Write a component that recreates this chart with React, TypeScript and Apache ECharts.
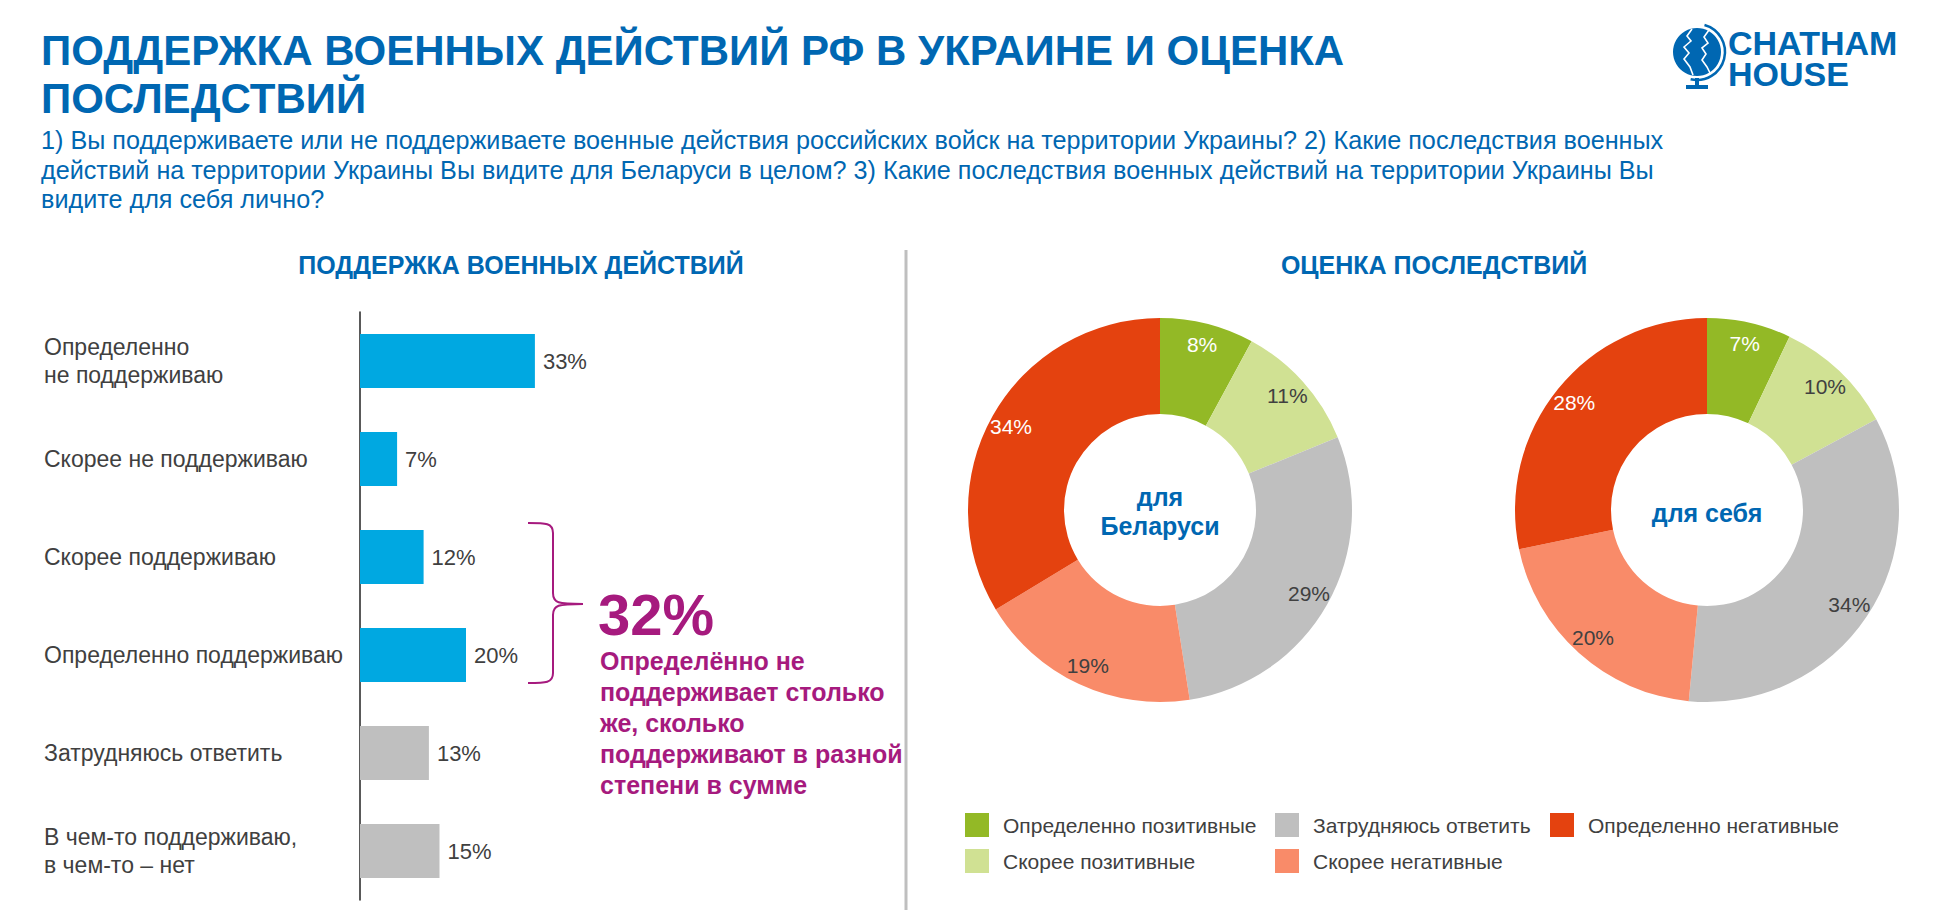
import React, { useEffect, useRef } from "react";
import * as echarts from "echarts";

// ---------- data ----------
const barCategories = [
  "Определенно\nне поддерживаю",
  "Скорее не поддерживаю",
  "Скорее поддерживаю",
  "Определенно поддерживаю",
  "Затрудняюсь ответить",
  "В чем-то поддерживаю,\nв чем-то – нет",
];
const barValues = [33, 7, 12, 20, 13, 15];

const pieCategories = [
  "Определенно позитивные",
  "Скорее позитивные",
  "Затрудняюсь ответить",
  "Скорее негативные",
  "Определенно негативные",
];
const belarusValues = [8, 11, 29, 19, 34];
const selfValues = [7, 10, 34, 20, 28];

const titleLines = ["ПОДДЕРЖКА ВОЕННЫХ ДЕЙСТВИЙ РФ В УКРАИНЕ И ОЦЕНКА", "ПОСЛЕДСТВИЙ"];
const subtitleLines = [
  "1) Вы поддерживаете или не поддерживаете военные действия российских войск на территории Украины? 2) Какие последствия военных",
  "действий на территории Украины Вы видите для Беларуси в целом? 3) Какие последствия военных действий на территории Украины Вы",
  "видите для себя лично?",
];
const leftHeader = "ПОДДЕРЖКА ВОЕННЫХ ДЕЙСТВИЙ";
const rightHeader = "ОЦЕНКА ПОСЛЕДСТВИЙ";
const annotationValue = "32%";
const annotationText =
  "Определённо не\nподдерживает столько\nже, сколько\nподдерживают в разной\nстепени в сумме";
const donutCenters = ["для\nБеларуси", "для себя"];
const logoLines = ["CHATHAM", "HOUSE"];

// ---------- styles ----------
const FONT = '"Liberation Sans", Arial, sans-serif';
const BLUE = "#0067b2";
const MAGENTA = "#a61a7e";
const TEXT = "#404040";
const barColorByIndex = ["#00a8e1", "#00a8e1", "#00a8e1", "#00a8e1", "#bfbfbf", "#bfbfbf"];
const pieColors = ["#93b926", "#d0e193", "#bfbfbf", "#f98b69", "#e4420f"];
const pieLabelColors = ["#ffffff", TEXT, TEXT, TEXT, "#ffffff"];

const bracePath =
  "M0 0 C 18 0, 25 0, 25 10 L 25 70 C 25 80, 30 81, 55 81 C 30 81, 25 82, 25 92 L 25 150 C 25 160, 18 160, 0 160";

export default function App() {
  const ref = useRef<HTMLDivElement>(null);

  useEffect(() => {
    document.body.style.margin = "0";
    document.body.style.overflow = "hidden";
    if (!ref.current) return;
    echarts.graphic.registerShape("brace", echarts.graphic.extendPath(bracePath, {}));
    const chart = echarts.init(ref.current, null, { renderer: "svg" });

    const pieData = (vals: number[]) =>
      pieCategories.map((name, i) => ({
        name,
        value: vals[i],
        itemStyle: { color: pieColors[i] },
      }));
    const pieLabelData = (vals: number[]) =>
      pieCategories.map((name, i) => ({
        name,
        value: vals[i],
        label: { color: pieLabelColors[i] },
      }));

    const donut = (cx: number, vals: number[]) => [
      {
        type: "pie",
        center: [cx, 510],
        radius: [96, 192],
        startAngle: 90,
        clockwise: true,
        label: { show: false },
        labelLine: { show: false },
        emphasis: { disabled: true },
        itemStyle: { borderWidth: 0 },
        data: pieData(vals),
      },
      {
        type: "pie",
        center: [cx, 510],
        radius: [144, 192],
        startAngle: 90,
        clockwise: true,
        silent: true,
        legendHoverLink: false,
        itemStyle: { color: "rgba(0,0,0,0)" },
        label: {
          show: true,
          position: "inside",
          formatter: "{c}%",
          fontSize: 21,
          fontFamily: FONT,
        },
        labelLine: { show: false },
        emphasis: { disabled: true },
        data: pieLabelData(vals),
      },
    ];

    const legendBase = {
      orient: "vertical",
      top: 813,
      padding: 0,
      itemWidth: 24,
      itemHeight: 24,
      itemGap: 12,
      icon: "rect",
      selectedMode: false,
      textStyle: { fontSize: 21, color: TEXT, fontFamily: FONT, padding: [0, 0, 0, 9] },
    };

    const titleGraphics = titleLines.map((t, i) => ({
      type: "text",
      x: 41,
      y: 50 + i * 48,
      style: { text: t, fill: BLUE, font: `bold 42px ${FONT}`, verticalAlign: "middle" },
    }));
    const subtitleGraphics = subtitleLines.map((t, i) => ({
      type: "text",
      x: 41,
      y: 140 + i * 29.5,
      style: { text: t, fill: BLUE, font: `25.2px ${FONT}`, verticalAlign: "middle" },
    }));
    const logoGraphics = logoLines.map((t, i) => ({
      type: "text",
      x: 1728,
      y: 43 + i * 31,
      style: { text: t, fill: BLUE, font: `bold 34px ${FONT}`, verticalAlign: "middle" },
    }));

    const option: any = {
      animation: false,
      textStyle: { fontFamily: FONT },
      grid: { left: 360, top: 312, width: 530, height: 588 },
      xAxis: { type: "value", min: 0, max: 100, show: false },
      yAxis: {
        type: "category",
        inverse: true,
        data: barCategories,
        axisLine: { show: true, lineStyle: { color: "#222", width: 1.5 } },
        axisTick: { show: false },
        axisLabel: {
          interval: 0,
          align: "left",
          margin: 316,
          fontSize: 23,
          lineHeight: 28,
          color: TEXT,
          fontFamily: FONT,
        },
      },
      legend: [
        { ...legendBase, left: 965, data: [pieCategories[0], pieCategories[1]] },
        { ...legendBase, left: 1275, data: [pieCategories[2], pieCategories[3]] },
        { ...legendBase, left: 1550, data: [pieCategories[4]] },
      ],
      series: [
        {
          type: "bar",
          data: barValues.map((v, i) => ({ value: v, itemStyle: { color: barColorByIndex[i] } })),
          barWidth: 54,
          label: {
            show: true,
            position: "right",
            distance: 8,
            formatter: "{c}%",
            fontSize: 22,
            color: TEXT,
            fontFamily: FONT,
          },
          emphasis: { disabled: true },
        },
        ...donut(1160, belarusValues),
        ...donut(1707, selfValues),
      ],
      graphic: [
        ...titleGraphics,
        ...subtitleGraphics,
        {
          type: "text",
          x: 521,
          y: 265,
          style: { text: leftHeader, fill: BLUE, font: `bold 25px ${FONT}`, align: "center", verticalAlign: "middle" },
        },
        {
          type: "text",
          x: 1434,
          y: 265,
          style: { text: rightHeader, fill: BLUE, font: `bold 25px ${FONT}`, align: "center", verticalAlign: "middle" },
        },
        {
          type: "line",
          shape: { x1: 906, y1: 250, x2: 906, y2: 910 },
          style: { stroke: "#bfbfbf", lineWidth: 3 },
        },
        {
          type: "brace",
          x: 528,
          y: 523,
          style: { fill: "none", stroke: MAGENTA, lineWidth: 2 },
        },
        {
          type: "text",
          x: 598,
          y: 614,
          style: { text: annotationValue, fill: MAGENTA, font: `bold 58px ${FONT}`, verticalAlign: "middle" },
        },
        {
          type: "text",
          x: 600,
          y: 645,
          style: { text: annotationText, fill: MAGENTA, font: `bold 25px ${FONT}`, lineHeight: 31, verticalAlign: "top" },
        },
        {
          type: "text",
          x: 1160,
          y: 511,
          style: { text: donutCenters[0], fill: BLUE, font: `bold 25px ${FONT}`, lineHeight: 29, align: "center", verticalAlign: "middle" },
        },
        {
          type: "text",
          x: 1707,
          y: 513,
          style: { text: donutCenters[1], fill: BLUE, font: `bold 25px ${FONT}`, align: "center", verticalAlign: "middle" },
        },
        // logo
        { type: "circle", shape: { cx: 1697, cy: 52, r: 24 }, style: { fill: BLUE } },
        {
          type: "arc",
          shape: { cx: 1697, cy: 52, r: 28, startAngle: -1.3, endAngle: 1.8 },
          style: { stroke: BLUE, lineWidth: 2.5, fill: "none" },
        },
        {
          type: "polyline",
          shape: { points: [[1692, 29], [1687, 36], [1691, 41], [1684, 47], [1689, 53], [1684, 59], [1690, 67], [1693, 75]] },
          style: { stroke: "#fff", lineWidth: 1.6, fill: "none" },
        },
        {
          type: "polyline",
          shape: { points: [[1709, 30], [1704, 37], [1708, 43], [1702, 48], [1706, 54], [1702, 60], [1707, 67], [1710, 73]] },
          style: { stroke: "#fff", lineWidth: 1.6, fill: "none" },
        },
        { type: "rect", shape: { x: 1695, y: 78, width: 4, height: 8 }, style: { fill: BLUE } },
        { type: "rect", shape: { x: 1686, y: 85, width: 22, height: 4 }, style: { fill: BLUE } },
        ...logoGraphics,
      ],
    };

    chart.setOption(option);
    return () => chart.dispose();
  }, []);

  return <div ref={ref} style={{ width: 1960, height: 910 }} />;
}
